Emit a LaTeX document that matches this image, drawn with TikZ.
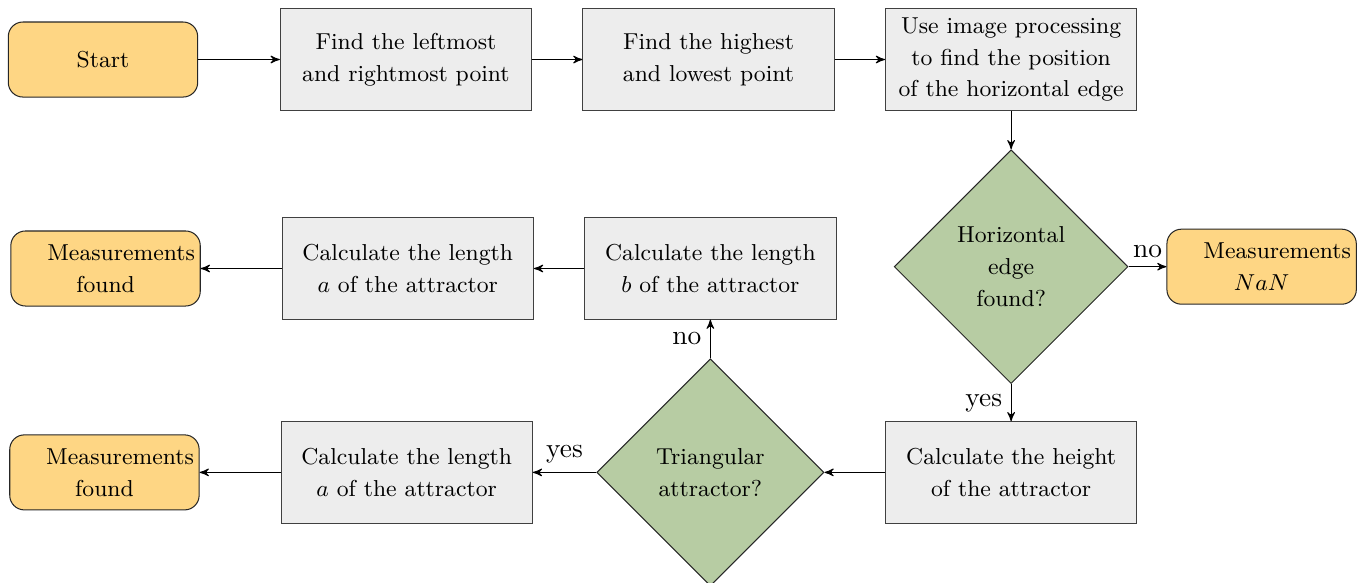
\documentclass[tikz,border=0pt]{standalone}
\usepackage{amsmath}
\usepackage{tikz}
\usetikzlibrary{arrows,shapes.geometric,positioning}
\definecolor{termfill}{RGB}{254,214,132}
\definecolor{procfill}{RGB}{237,237,237}
\definecolor{decfill}{RGB}{183,204,163}
\newcommand{\boxfont}{\fontsize{9}{12.4}\selectfont}
\newcommand{\lblfont}{\fontsize{10.7}{13}\selectfont}

\begin{document}
\begin{tikzpicture}
\tikzstyle{startstop}=[rectangle, rounded corners=0.2cm, draw=black!85, fill=termfill, minimum width=2.6cm, minimum height=1.03cm, text width=1.6cm, align=center, font=\boxfont]
\tikzstyle{procbox}=[rectangle, draw=black!75, fill=procfill, minimum width=3.45cm, minimum height=1.39cm, align=center, font=\boxfont]
\tikzstyle{decide}=[diamond, draw=black!85, fill=decfill, align=center, inner sep=0pt, font=\boxfont]
\tikzstyle{flow}=[->, >=stealth']
\tikzstyle{lbl}=[font=\lblfont]

\useasboundingbox (0,0) rectangle (18.712,-7.990);

\node[startstop] (start) at (1.414,-0.817) {Start};
\node[procbox, right=1.12cm of start] (extx) {Find the leftmost\\and rightmost point};
\node[procbox, right=0.69cm of extx] (exty) {Find the highest\\and lowest point};
\node[procbox, right=0.69cm of exty] (edge) {Use image processing\\to find the position\\of the horizontal edge};
\node[decide, minimum size=3.21cm, below=0.53cm of edge] (found) {Horizontal\\edge\\found?};
\node[startstop, right=0.52cm of found] (nan) {Measurements\\$NaN$};
\node[procbox, below=0.51cm of found] (height) {Calculate the height\\of the attractor};
\node[decide, minimum size=3.12cm, left=0.83cm of height] (tri) {Triangular\\attractor?};
\node[procbox, left=0.87cm of tri] (lena2) {Calculate the length\\$a$ of the attractor};
\node[startstop, left=1.11cm of lena2] (done2) {Measurements\\found};
\node[procbox, above=0.53cm of tri] (lenb) {Calculate the length\\$b$ of the attractor};
\node[procbox, left=0.69cm of lenb] (lena1) {Calculate the length\\$a$ of the attractor};
\node[startstop, left=1.11cm of lena1] (done1) {Measurements\\found};

\draw[flow] (start) -- (extx);
\draw[flow] (extx) -- (exty);
\draw[flow] (exty) -- (edge);
\draw[flow] (edge) -- (found);
\draw[flow] (found) -- node[lbl, above]{no} (nan);
\draw[flow] (found) -- node[lbl, left]{yes} (height);
\draw[flow] (height) -- (tri);
\draw[flow] (tri) -- node[lbl, above]{yes} (lena2);
\draw[flow] (tri) -- node[lbl, left]{no} (lenb);
\draw[flow] (lenb) -- (lena1);
\draw[flow] (lena1) -- (done1);
\draw[flow] (lena2) -- (done2);
\end{tikzpicture}
\end{document}
